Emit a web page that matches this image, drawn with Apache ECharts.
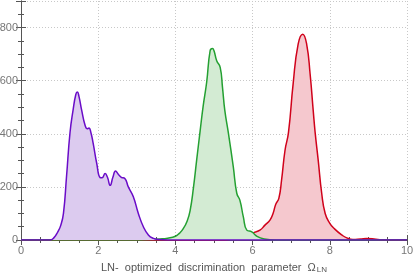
<!DOCTYPE html>
<html><head><meta charset="utf-8">
<script src="https://cdn.jsdelivr.net/npm/echarts@6/dist/echarts.min.js"></script>
<style>html,body{margin:0;padding:0;background:#fff}#c{width:415px;height:273px}</style>
</head><body><div id="c"></div>
<script>
var xTicks = [0, 2, 4, 6, 8, 10];
var yTicks = [0, 200, 400, 600, 800];
var purpleX = [0, 0.75, 0.85, 0.95, 1.03, 1.1, 1.18, 1.27, 1.35, 1.42, 1.46, 1.5, 1.57, 1.66, 1.72, 1.76, 1.81, 1.87, 1.96, 2.05, 2.1, 2.18, 2.24, 2.31, 2.38, 2.45, 2.52, 2.6, 2.69, 2.78, 2.91, 3.04, 3.17, 3.3, 3.43, 3.56, 3.8, 10];
var purpleY = [0, 0, 8, 30, 55, 100, 240, 405, 490, 548, 557, 542, 490, 432, 419, 422, 405, 364, 290, 235, 234, 250, 236, 206, 236, 260, 248, 236, 232, 200, 163, 100, 50, 19, 6, 2, 0, 0];
var greenX = [0, 3.0, 3.3, 3.6, 3.8, 4.0, 4.1, 4.2, 4.3, 4.38, 4.47, 4.55, 4.64, 4.72, 4.81, 4.9, 4.96, 5.0, 5.07, 5.16, 5.22, 5.28, 5.37, 5.5, 5.59, 5.67, 5.76, 5.85, 5.98, 6.1, 6.3, 6.6, 10];
var greenY = [0, 0, 2, 4, 7, 14, 25, 42, 70, 110, 200, 300, 410, 505, 594, 713, 721, 713, 675, 650, 575, 488, 405, 275, 176, 150, 87, 37, 31, 15, 4, 0, 0];
var redX = [0, 5.2, 5.5, 5.7, 5.85, 5.95, 6.0, 6.19, 6.32, 6.45, 6.53, 6.6, 6.68, 6.75, 6.84, 6.93, 7.05, 7.18, 7.3, 7.4, 7.49, 7.57, 7.62, 7.7, 7.79, 7.88, 8.0, 8.13, 8.31, 8.44, 8.6, 8.8, 8.95, 9.1, 9.3, 10];
var redY = [0, 0, 5, 8, 15, 12, 25, 37, 56, 75, 100, 135, 157, 225, 338, 405, 588, 738, 775, 738, 625, 488, 405, 300, 176, 100, 63, 41, 19, 8, 2, 4, 6, 5, 1, 0];

function pairs(xs, ys) { return xs.map(function (x, i) { return [x, ys[i]]; }); }

var axisCol = '#555';
var font = 'Liberation Sans';
function mkSeries(name, xs, ys, line, fill, z) {
  return {
    name: name, type: 'line', data: pairs(xs, ys), smooth: 0.5,
    showSymbol: false, symbol: 'none', z: z,
    lineStyle: { color: line, width: 1.5 },
    areaStyle: { color: fill, opacity: 1 }
  };
}
var chart = echarts.init(document.getElementById('c'), null, { renderer: 'canvas' });
var baseX = {
  type: 'value', min: 0, max: 10, interval: 2,
  axisLine: { show: true, lineStyle: { color: axisCol, width: 1 } },
  axisTick: { show: true, inside: true, length: 5, lineStyle: { color: axisCol } },
  minorTick: { show: true, splitNumber: 4, length: 3, lineStyle: { color: axisCol } }
};
var baseY = {
  type: 'value', min: 0, max: 900, interval: 200,
  axisLine: { show: true, lineStyle: { color: axisCol, width: 1 } },
  axisTick: { show: true, inside: true, length: 5, lineStyle: { color: axisCol } },
  minorTick: { show: true, splitNumber: 4, length: 3, lineStyle: { color: axisCol } }
};
chart.setOption({
  animation: false,
  grid: { left: 21, right: 8, top: 1, bottom: 33, containLabel: false, outerBoundsMode: 'none' },
  xAxis: [
    Object.assign({}, baseX, {
      position: 'bottom',
      axisLabel: { color: '#777', fontSize: 11, fontFamily: font, margin: 5,
        formatter: function (v) { return xTicks.indexOf(v) >= 0 ? String(v) : ''; } },
      splitLine: { show: true, lineStyle: { color: '#c8c8c8', type: [1, 2], width: 1 } },
      name: '{a|LN-\u00a0 optimized\u00a0 discrimination\u00a0 parameter\u00a0 Ω}{s|LN}',
      nameLocation: 'middle', nameGap: 21,
      nameTextStyle: { rich: {
        a: { fontSize: 11, color: '#555', fontFamily: font },
        s: { fontSize: 8, color: '#555', fontFamily: font, verticalAlign: 'bottom', padding: [5, 0, 0, 1] }
      } }
    }),
    Object.assign({}, baseX, { position: 'top', axisLabel: { show: false }, splitLine: { show: false } })
  ],
  yAxis: [
    Object.assign({}, baseY, {
      position: 'left',
      axisLabel: { color: '#777', fontSize: 11, fontFamily: font, margin: 3,
        formatter: function (v) { return yTicks.indexOf(v) >= 0 ? String(v) : ''; } },
      splitLine: { show: true, lineStyle: { color: '#c8c8c8', type: [1, 2], width: 1 } }
    }),
    Object.assign({}, baseY, { position: 'right', axisLabel: { show: false }, splitLine: { show: false } })
  ],
  series: [
    mkSeries('red', redX, redY, '#d0021b', '#f5c8ce', 2),
    mkSeries('green', greenX, greenY, '#24a032', '#d3ebd3', 3),
    mkSeries('purple', purpleX, purpleY, '#6a0cc8', '#dccbef', 4)
  ]
});
</script></body></html>
